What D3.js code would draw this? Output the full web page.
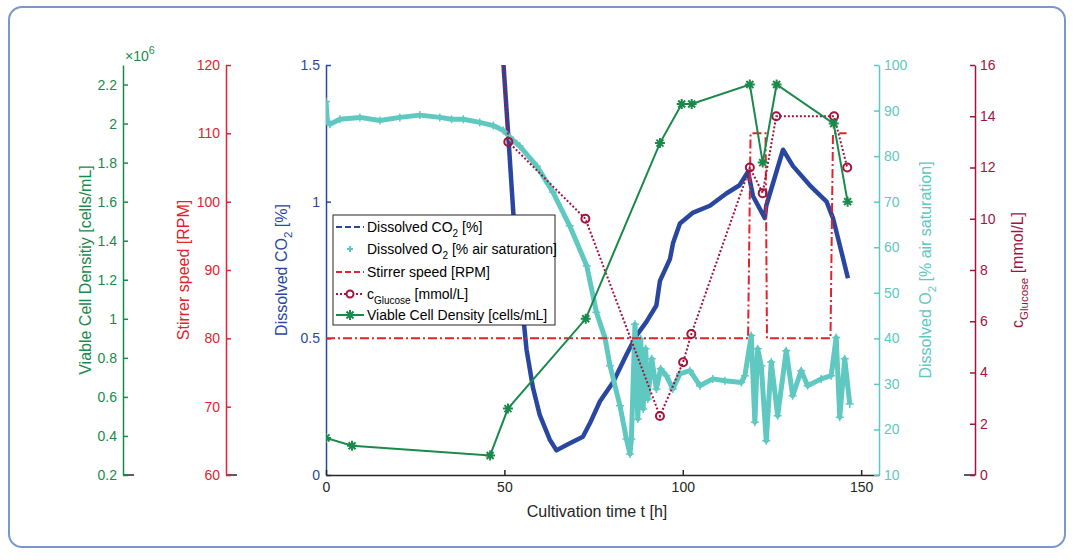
<!DOCTYPE html>
<html>
<head>
<meta charset="utf-8">
<script src="https://cdn.jsdelivr.net/npm/d3@7"></script>
<style>
  body { margin: 0; background: #fff; }
  text { font-family: "Liberation Sans", Arial, sans-serif; }
</style>
</head>
<body>
<svg id="chart" width="1075" height="560"></svg>
<script>
// tick values for each axis
const timeTicks = [0, 50, 100, 150];
const co2Ticks = [0, 0.5, 1, 1.5];
const rpmTicks = [60, 70, 80, 90, 100, 110, 120];
const vcdTicks = [0.2, 0.4, 0.6, 0.8, 1, 1.2, 1.4, 1.6, 1.8, 2, 2.2];
const o2Ticks = [10, 20, 30, 40, 50, 60, 70, 80, 90, 100];
const glcTicks = [0, 2, 4, 6, 8, 10, 12, 14, 16];

// dissolved CO2 [%]
const co2Time = [49.6, 51.1, 52.5, 54.3, 56.2, 58.0, 59.9, 62.7, 64.6, 67.4, 72.0, 74.0, 76.8, 80.5, 84.2, 87.0, 89.8, 92.6, 93.6, 96.4, 97.3, 99.2, 102.9, 107.6, 112.2, 115.9, 118.3, 119.7, 123.0, 123.4, 128.1, 130.9, 135.6, 140.3, 142.1, 144.5, 146.3];
const co2Val = [1.53, 1.24, 0.96, 0.71, 0.46, 0.32, 0.22, 0.13, 0.09, 0.11, 0.14, 0.19, 0.27, 0.34, 0.44, 0.51, 0.56, 0.62, 0.71, 0.79, 0.85, 0.92, 0.96, 0.985, 1.03, 1.06, 1.11, 1.02, 0.94, 0.985, 1.19, 1.13, 1.06, 1.0, 0.94, 0.815, 0.72];

// dissolved O2 [% air saturation]
const o2Time = [0, 0.4, 1.1, 3.9, 9.5, 15.1, 20.7, 26.3, 31.9, 35.2, 38.5, 43.1, 46.9, 49.7, 52.5, 54.3, 59.1, 63.6, 68.3, 73.1, 75.8, 78.2, 79.6, 82.4, 84.2, 85.2, 85.6, 86.6, 87.4, 88.2, 88.9, 89.6, 90.2, 91.3, 92.6, 93.8, 95.4, 97.2, 99.2, 102.0, 104.8, 108.4, 111.8, 116.4, 117.4, 119.2, 120.2, 121.0, 122.0, 123.4, 124.8, 126.6, 129.0, 130.8, 133.2, 135.0, 138.8, 141.6, 143.0, 144.0, 145.4, 146.8];
const o2Val = [92, 87.5, 87.0, 88.1, 88.5, 87.8, 88.5, 89.0, 88.5, 88.1, 88.1, 87.4, 86.7, 85.6, 83.4, 82.2, 77.8, 72.1, 64.7, 55.9, 45.7, 40.1, 34.0, 25.2, 17.9, 14.6, 17.9, 43.1, 22.3, 39.9, 24.5, 37.7, 26.7, 35.5, 28.9, 33.3, 31.8, 28.9, 32.2, 32.9, 29.6, 31.1, 30.7, 30.3, 31.8, 40.6, 21.6, 37.7, 34.0, 17.5, 34.8, 23.0, 37.3, 27.4, 32.9, 29.6, 31.1, 31.8, 40.2, 22.7, 35.5, 25.6];

// stirrer speed [RPM]
const rpmTime = [0, 118.3, 119.0, 123.2, 123.6, 141.4, 142.1, 145.9];
const rpmVal = [80, 80, 110, 110, 80, 80, 110, 110];

// glucose [mmol/L]
const glcTime = [46, 51.1, 72.7, 93.6, 100.1, 102.4, 118.8, 122.4, 126.2, 142.4, 146.1];
const glcVal = [23.8, 13.0, 10.0, 2.3, 4.4, 5.5, 12.0, 11.0, 14.0, 14.0, 12.0];

// viable cell density [x10^6 cells/mL]
const vcdTime = [0, 7.3, 46, 51, 72.8, 93.6, 99.7, 102.5, 118.8, 122.4, 126.3, 142.3, 146.2];
const vcdVal = [0.39, 0.35, 0.30, 0.54, 1.0, 1.9, 2.1, 2.1, 2.2, 1.8, 2.2, 2.0, 1.6];

const cBlue = "#2a47a0", cCyan = "#5fc8c1", cRed = "#e2222c", cGlc = "#a2133d", cGreen = "#1a8a4b", cBlack = "#262626";

const plotLeft = 326, plotRight = 879, plotTop = 65, plotBottom = 475;

const svg = d3.select("#chart");

// outer frame
svg.append("rect")
  .attr("x", 9).attr("y", 7).attr("width", 1056).attr("height", 540)
  .attr("rx", 13)
  .attr("fill", "none").attr("stroke", "#7b96c8").attr("stroke-width", 2);

const x = d3.scaleLinear().domain([0, 155]).range([plotLeft, plotRight]);
const yCo2 = d3.scaleLinear().domain([0, 1.5]).range([plotBottom, plotTop]);
const yRpm = d3.scaleLinear().domain([60, 120]).range([plotBottom, plotTop]);
const yVcd = d3.scaleLinear().domain([0.2, 2.3]).range([plotBottom, plotTop]);
const yO2 = d3.scaleLinear().domain([10, 100]).range([plotBottom, plotTop]);
const yGlc = d3.scaleLinear().domain([0, 16]).range([plotBottom, plotTop]);

function styleAxis(g, color) {
  g.selectAll("path, line").attr("stroke", color).attr("stroke-width", 1.5);
  g.selectAll("text").attr("fill", color).attr("font-size", 14)
    .attr("font-family", "'Liberation Sans', Arial, sans-serif");
}

function leftAxis(scale, ticks, xpos, color) {
  const g = svg.append("g").attr("transform", `translate(${xpos},0)`)
    .call(d3.axisLeft(scale).tickValues(ticks).tickFormat(d => String(d))
      .tickSize(-5).tickSizeOuter(0).tickPadding(6));
  styleAxis(g, color);
  return g;
}

function rightAxis(scale, ticks, xpos, color) {
  const g = svg.append("g").attr("transform", `translate(${xpos},0)`)
    .call(d3.axisRight(scale).tickValues(ticks).tickFormat(d => String(d))
      .tickSize(-5).tickSizeOuter(0).tickPadding(5));
  styleAxis(g, color);
  return g;
}

// short black stubs left over from the hidden x axes
[[123, 134], [226, 237], [964, 975]].forEach(s => {
  svg.append("line").attr("x1", s[0]).attr("x2", s[1]).attr("y1", plotBottom).attr("y2", plotBottom)
    .attr("stroke", cBlack).attr("stroke-width", 1.5);
});

leftAxis(yVcd, vcdTicks, 123, cGreen);
leftAxis(yRpm, rpmTicks, 226, cRed);
leftAxis(yCo2, co2Ticks, plotLeft, cBlue);

// x axis
const gx = svg.append("g").attr("transform", `translate(0,${plotBottom})`)
  .call(d3.axisBottom(x).tickValues(timeTicks).tickSize(-5).tickSizeOuter(0).tickPadding(7));
styleAxis(gx, cBlack);

rightAxis(yO2, o2Ticks, plotRight, cCyan);
rightAxis(yGlc, glcTicks, 975, cGlc);

// x10^6 multiplier
svg.append("text").attr("x", 125).attr("y", 61).attr("fill", cGreen).attr("font-size", 14)
  .text("\u00d710").append("tspan").attr("dy", -7).attr("font-size", 10.5).text("6");

// text with subscripts: parts are [string, isSub]
function richText(t, parts, subSize) {
  let lowered = false;
  parts.forEach(p => {
    const ts = t.append("tspan").text(p[0]);
    if (p[1]) {
      ts.attr("dy", 5).attr("font-size", subSize);
      lowered = true;
    } else if (lowered) {
      ts.attr("dy", -5);
      lowered = false;
    }
  });
}

// axis titles
function vTitle(xpos, color, parts) {
  const t = svg.append("text")
    .attr("transform", `translate(${xpos},${(plotTop + plotBottom) / 2}) rotate(-90)`)
    .attr("text-anchor", "middle").attr("fill", color).attr("font-size", 16);
  richText(t, parts, 11.5);
}
vTitle(91, cGreen, [["Viable Cell Densitiy [cells/mL]"]]);
vTitle(189, cRed, [["Stirrer speed [RPM]"]]);
vTitle(287, cBlue, [["Dissolved CO"], ["2", 1], [" [%]"]]);
vTitle(931, cCyan, [["Dissolved O"], ["2", 1], [" [% air saturation]"]]);
vTitle(1023, cGlc, [["c"], ["Glucose", 1], [" [mmol/L]"]]);

svg.append("text").attr("x", 597).attr("y", 517)
  .attr("text-anchor", "middle").attr("fill", cBlack).attr("font-size", 16)
  .text("Cultivation time t [h]");

// plot area clip
svg.append("clipPath").attr("id", "plotClip").append("rect")
  .attr("x", plotLeft).attr("y", plotTop).attr("width", plotRight - plotLeft).attr("height", plotBottom - plotTop);
const plot = svg.append("g").attr("clip-path", "url(#plotClip)");

function pts(times, vals) { return times.map((t, i) => [t, vals[i]]); }

// CO2
plot.append("path")
  .datum(pts(co2Time, co2Val))
  .attr("d", d3.line().x(d => x(d[0])).y(d => yCo2(d[1])))
  .attr("fill", "none").attr("stroke", cBlue).attr("stroke-width", 4.5).attr("stroke-linejoin", "round");

// O2
const o2Data = pts(o2Time, o2Val);
plot.append("path")
  .datum(o2Data)
  .attr("d", d3.line().x(d => x(d[0])).y(d => yO2(d[1])))
  .attr("fill", "none").attr("stroke", cCyan).attr("stroke-width", 5).attr("stroke-linejoin", "round");
plot.selectAll(".o2m").data(o2Data).enter().append("path")
  .attr("class", "o2m")
  .attr("transform", d => `translate(${x(d[0])},${yO2(d[1])})`)
  .attr("d", "M-4,0H4M0,-4V4")
  .attr("stroke", cCyan).attr("stroke-width", 1.5);

// stirrer
plot.append("path")
  .datum(pts(rpmTime, rpmVal))
  .attr("d", d3.line().x(d => x(d[0])).y(d => yRpm(d[1])))
  .attr("fill", "none").attr("stroke", cRed).attr("stroke-width", 2)
  .attr("stroke-dasharray", "9,3,2,3");

// glucose
const glcData = pts(glcTime, glcVal);
plot.append("path")
  .datum(glcData)
  .attr("d", d3.line().x(d => x(d[0])).y(d => yGlc(d[1])))
  .attr("fill", "none").attr("stroke", cGlc).attr("stroke-width", 2)
  .attr("stroke-dasharray", "2,2");
plot.selectAll(".glcm").data(glcData).enter().append("circle")
  .attr("class", "glcm")
  .attr("cx", d => x(d[0])).attr("cy", d => yGlc(d[1])).attr("r", 4)
  .attr("fill", "none").attr("stroke", cGlc).attr("stroke-width", 2);

// viable cell density
const star = "M-5,0H5M0,-5V5M-3.5,-3.5L3.5,3.5M-3.5,3.5L3.5,-3.5";
const vcdData = pts(vcdTime, vcdVal);
plot.append("path")
  .datum(vcdData)
  .attr("d", d3.line().x(d => x(d[0])).y(d => yVcd(d[1])))
  .attr("fill", "none").attr("stroke", cGreen).attr("stroke-width", 2);
plot.selectAll(".vcdm").data(vcdData).enter().append("path")
  .attr("class", "vcdm")
  .attr("transform", d => `translate(${x(d[0])},${yVcd(d[1])})`)
  .attr("d", star).attr("stroke", cGreen).attr("stroke-width", 2);

// legend
const lg = svg.append("g").attr("transform", "translate(333,215)");
lg.append("rect").attr("width", 222).attr("height", 110)
  .attr("fill", "#fff").attr("stroke", cBlack).attr("stroke-width", 1);
const rows = [
  {y: 12, color: cBlue, dash: "6,3", parts: [["Dissolved CO"], ["2", 1], [" [%]"]]},
  {y: 34, color: cCyan, marker: "plus", parts: [["Dissolved O"], ["2", 1], [" [% air saturation]"]]},
  {y: 57, color: cRed, dash: "6,3", parts: [["Stirrer speed [RPM]"]]},
  {y: 79, color: cGlc, dash: "2,2", marker: "circle", parts: [["c"], ["Glucose", 1], [" [mmol/L]"]]},
  {y: 100, color: cGreen, marker: "star", parts: [["Viable Cell Density [cells/mL]"]]}
];
rows.forEach(r => {
  if (r.marker !== "plus") {
    lg.append("line").attr("x1", 3).attr("x2", 31).attr("y1", r.y).attr("y2", r.y)
      .attr("stroke", r.color).attr("stroke-width", 2)
      .attr("stroke-dasharray", r.dash || null);
  }
  if (r.marker === "plus") {
    lg.append("path").attr("transform", `translate(17,${r.y})`).attr("d", "M-3,0H3M0,-3V3")
      .attr("stroke", r.color).attr("stroke-width", 2);
  } else if (r.marker === "circle") {
    lg.append("circle").attr("cx", 17).attr("cy", r.y).attr("r", 3.5)
      .attr("fill", "#fff").attr("stroke", r.color).attr("stroke-width", 2);
  } else if (r.marker === "star") {
    lg.append("path").attr("transform", `translate(17,${r.y})`).attr("d", star)
      .attr("stroke", r.color).attr("stroke-width", 2);
  }
  const t = lg.append("text").attr("x", 34).attr("y", r.y + 5)
    .attr("fill", "#000").attr("font-size", 14);
  richText(t, r.parts, 10);
});
</script>
</body>
</html>
